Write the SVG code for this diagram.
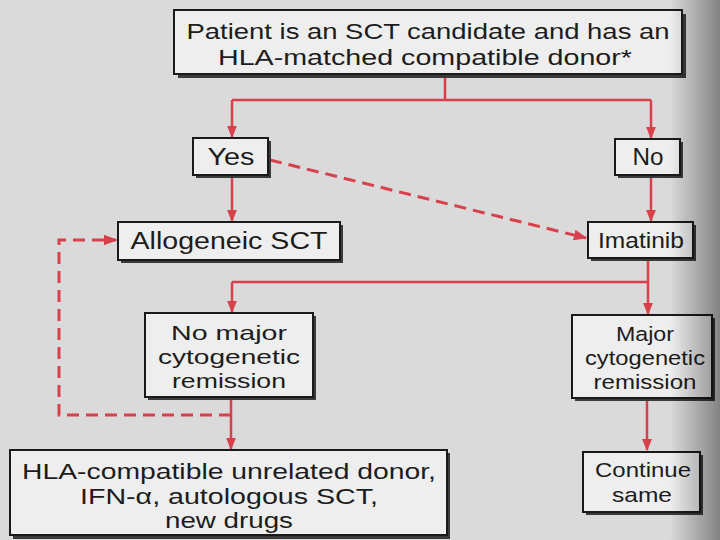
<svg xmlns="http://www.w3.org/2000/svg" width="720" height="540" viewBox="0 0 720 540">
<defs>
<style>
.box{fill:#eeeeee;stroke:#1a1a1a;stroke-width:2}
.sh{fill:#3a3a3a}
.t{font-family:"Liberation Sans",Arial,Helvetica,sans-serif;fill:#1c1c1c;text-anchor:middle}
.ln{fill:none;stroke:#d8404c;stroke-width:2.5}
.dl{fill:none;stroke:#d8404c;stroke-width:3;stroke-dasharray:12 7}
</style>
<marker id="ar" viewBox="0 0 10 10" refX="9" refY="5" markerWidth="5" markerHeight="5" orient="auto" markerUnits="strokeWidth">
<path d="M0,1 L10,5 L0,9 Z" fill="#d8404c"/>
</marker>
<marker id="ard" viewBox="0 0 10 10" refX="9" refY="5" markerWidth="4.5" markerHeight="4.5" orient="auto" markerUnits="strokeWidth">
<path d="M0,1 L10,5 L0,9 Z" fill="#d8404c"/>
</marker>
<linearGradient id="edge" x1="0" y1="0" x2="1" y2="0">
<stop offset="0" stop-color="#000" stop-opacity="0"/>
<stop offset="1" stop-color="#000" stop-opacity="0.4"/>
</linearGradient>
</defs>
<rect width="720" height="540" fill="#dadada"/>

<g id="connectors">
<path class="ln" d="M445,75 V100 M232,100 H651"/>
<path class="ln" d="M232,100 V137" marker-end="url(#ar)"/>
<path class="ln" d="M651,100 V138" marker-end="url(#ar)"/>
<path class="ln" d="M232,176 V221" marker-end="url(#ar)"/>
<path class="ln" d="M651,176 V221" marker-end="url(#ar)"/>
<path class="dl" d="M270,160 L586,238" marker-end="url(#ard)"/>
<path class="ln" d="M648,259 V282 M232,282 H648"/>
<path class="ln" d="M232,282 V312" marker-end="url(#ar)"/>
<path class="ln" d="M648,282 V314" marker-end="url(#ar)"/>
<path class="ln" d="M231,398 V449" marker-end="url(#ar)"/>
<path class="dl" d="M231,415 H59 V240 H116" marker-end="url(#ard)"/>
<path class="ln" d="M647,399 V450" marker-end="url(#ar)"/>
</g>

<g id="top">
<rect class="sh" x="178" y="14" width="508" height="64"/>
<rect class="box" x="174" y="10" width="508" height="64"/>
<text class="t" x="428" y="39" font-size="22.5" textLength="483" lengthAdjust="spacingAndGlyphs">Patient is an SCT candidate and has an</text>
<text class="t" x="425" y="65" font-size="22.5" textLength="414" lengthAdjust="spacingAndGlyphs">HLA-matched compatible donor*</text>
</g>

<g id="yes">
<rect class="sh" x="196" y="141" width="75" height="37"/>
<rect class="box" x="193" y="138" width="75" height="37"/>
<text class="t" x="231" y="165" font-size="23" textLength="47" lengthAdjust="spacingAndGlyphs">Yes</text>
</g>

<g id="no">
<rect class="sh" x="618" y="142" width="65" height="36"/>
<rect class="box" x="615" y="139" width="65" height="36"/>
<text class="t" x="648" y="165" font-size="23" textLength="31" lengthAdjust="spacingAndGlyphs">No</text>
</g>

<g id="allogeneic">
<rect class="sh" x="121" y="225" width="222" height="38"/>
<rect class="box" x="118" y="222" width="222" height="38"/>
<text class="t" x="229" y="249" font-size="23" textLength="197" lengthAdjust="spacingAndGlyphs">Allogeneic SCT</text>
</g>

<g id="imatinib">
<rect class="sh" x="591" y="225" width="105" height="36"/>
<rect class="box" x="588" y="222" width="105" height="36"/>
<text class="t" x="641" y="248" font-size="22" textLength="86" lengthAdjust="spacingAndGlyphs">Imatinib</text>
</g>

<g id="nomajor">
<rect class="sh" x="148" y="316" width="168" height="84"/>
<rect class="box" x="145" y="313" width="168" height="84"/>
<text class="t" x="229" y="340" font-size="21" textLength="116" lengthAdjust="spacingAndGlyphs">No major</text>
<text class="t" x="229" y="364" font-size="21" textLength="142" lengthAdjust="spacingAndGlyphs">cytogenetic</text>
<text class="t" x="229" y="388" font-size="21" textLength="114" lengthAdjust="spacingAndGlyphs">remission</text>
</g>

<g id="major">
<rect class="sh" x="575" y="318" width="140" height="83"/>
<rect class="box" x="572" y="315" width="140" height="83"/>
<text class="t" x="645" y="341" font-size="20.5" textLength="58" lengthAdjust="spacingAndGlyphs">Major</text>
<text class="t" x="645" y="365" font-size="20.5" textLength="120" lengthAdjust="spacingAndGlyphs">cytogenetic</text>
<text class="t" x="645" y="389" font-size="20.5" textLength="103" lengthAdjust="spacingAndGlyphs">remission</text>
</g>

<g id="hla">
<rect class="sh" x="13" y="453" width="437" height="86"/>
<rect class="box" x="10" y="450" width="437" height="85"/>
<text class="t" x="229" y="479" font-size="22" textLength="414" lengthAdjust="spacingAndGlyphs">HLA-compatible unrelated donor,</text>
<text class="t" x="229" y="504" font-size="22" textLength="298" lengthAdjust="spacingAndGlyphs">IFN-α, autologous SCT,</text>
<text class="t" x="229" y="528" font-size="22" textLength="128" lengthAdjust="spacingAndGlyphs">new drugs</text>
</g>

<g id="continue">
<rect class="sh" x="586" y="455" width="117" height="60"/>
<rect class="box" x="583" y="452" width="117" height="60"/>
<text class="t" x="643" y="477" font-size="21" textLength="96" lengthAdjust="spacingAndGlyphs">Continue</text>
<text class="t" x="642" y="502" font-size="21" textLength="60" lengthAdjust="spacingAndGlyphs">same</text>
</g>

<rect x="670" y="0" width="50" height="540" fill="url(#edge)"/>
</svg>
